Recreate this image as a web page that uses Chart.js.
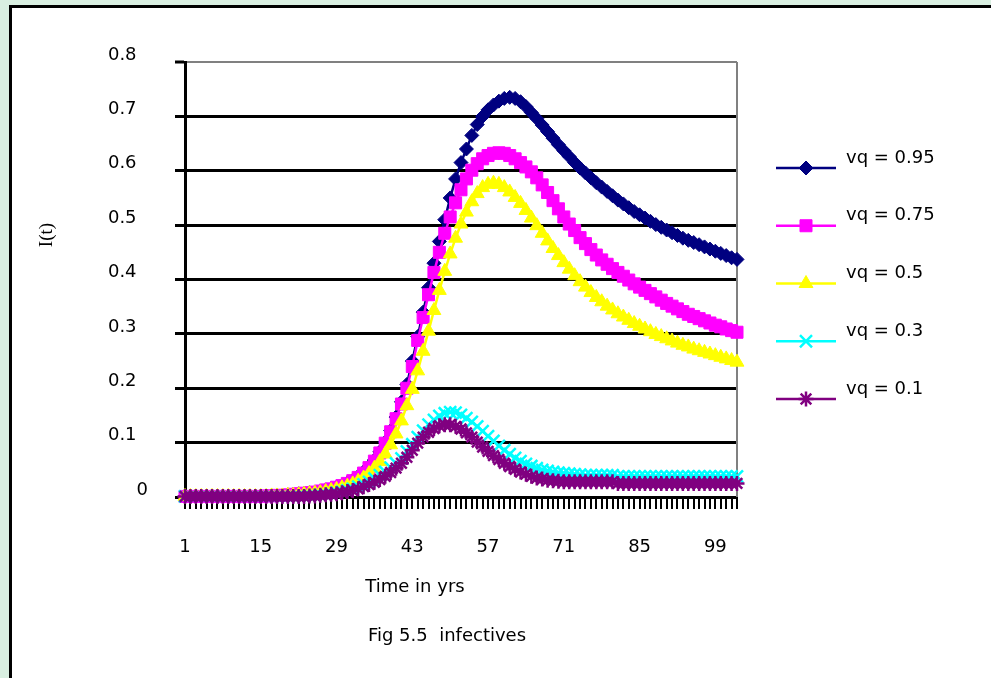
<!DOCTYPE html>
<html><head><meta charset="utf-8">
<script src="https://cdn.jsdelivr.net/npm/chart.js@4.4.1/dist/chart.umd.min.js"></script>
<style>
html,body{margin:0;padding:0;width:991px;height:678px;overflow:hidden;background:#d9efe1;}
#panel{position:absolute;left:9px;top:5px;right:0;bottom:0;background:#fff;border-top:3px solid #000;border-left:3px solid #000;}
#c{position:absolute;left:0;top:0;}
</style></head><body>
<div id="panel"></div>
<canvas id="c" width="991" height="678"></canvas>
<script>
const categories = ['1','2','3','4','5','6','7','8','9','10','11','12','13','14','15','16','17','18','19','20',
'21','22','23','24','25','26','27','28','29','30','31','32','33','34','35','36','37','38','39','40',
'41','42','43','44','45','46','47','48','49','50','51','52','53','54','55','56','57','58','59','60',
'61','62','63','64','65','66','67','68','69','70','71','72','73','74','75','76','77','78','79','80',
'81','82','83','84','85','86','87','88','89','90','91','92','93','94','95','96','97','98','99','100',
'101','102','103'];
const xTickLabels = ['1','15','29','43','57','71','85','99'];
const yTickValues = [0,0.1,0.2,0.3,0.4,0.5,0.6,0.7,0.8];
const yTickLabels = ['0','0.1','0.2','0.3','0.4','0.5','0.6','0.7','0.8'];
const seriesNames = ['vq = 0.95','vq = 0.75','vq = 0.5','vq = 0.3','vq = 0.1'];
const xTitle = 'Time in yrs';
const yTitle = 'I(t)';
const caption = 'Fig 5.5  infectives';

const vq95 = [0.001,0.001,0.001,0.001,0.001,0.001,0.001,0.001,0.001,0.001,0.001,0.001,0.001,0.001,0.001,
0.002,0.002,0.003,0.003,0.004,0.005,0.006,0.007,0.008,0.009,0.011,0.013,0.015,0.018,0.021,
0.026,0.031,0.038,0.046,0.056,0.068,0.083,0.101,0.122,0.147,0.175,0.207,0.25,0.295,0.34,
0.385,0.43,0.47,0.51,0.55,0.585,0.615,0.64,0.665,0.685,0.70,0.712,0.721,0.728,0.733,
0.735,0.733,0.727,0.718,0.707,0.696,0.684,0.672,0.66,0.648,0.637,0.626,0.615,0.605,0.596,
0.587,0.578,0.57,0.562,0.554,0.546,0.539,0.532,0.525,0.519,0.513,0.507,0.501,0.496,0.491,
0.486,0.481,0.476,0.472,0.468,0.464,0.46,0.456,0.452,0.448,0.444,0.44,0.437];
const vq75 = [0.001,0.001,0.001,0.001,0.001,0.001,0.001,0.001,0.001,0.001,0.001,0.001,0.001,0.001,0.001,
0.002,0.002,0.003,0.003,0.004,0.005,0.006,0.007,0.008,0.009,0.011,0.013,0.015,0.018,0.021,
0.025,0.03,0.036,0.044,0.054,0.066,0.081,0.099,0.12,0.144,0.171,0.2,0.24,0.288,0.33,
0.372,0.413,0.45,0.485,0.515,0.541,0.565,0.585,0.601,0.613,0.622,0.628,0.632,0.633,0.632,
0.628,0.622,0.615,0.607,0.598,0.587,0.574,0.56,0.545,0.53,0.515,0.502,0.49,0.477,0.466,
0.455,0.445,0.436,0.428,0.42,0.413,0.406,0.399,0.392,0.386,0.38,0.374,0.368,0.362,0.356,
0.351,0.346,0.341,0.336,0.332,0.328,0.324,0.32,0.316,0.313,0.309,0.306,0.303];
const vq50 = [0.001,0.001,0.001,0.001,0.001,0.001,0.001,0.001,0.001,0.001,0.001,0.001,0.001,0.001,0.001,
0.001,0.002,0.002,0.002,0.003,0.003,0.004,0.005,0.006,0.007,0.008,0.01,0.012,0.014,0.017,
0.02,0.024,0.029,0.035,0.043,0.053,0.065,0.079,0.096,0.116,0.14,0.168,0.198,0.232,0.268,
0.305,0.343,0.38,0.415,0.447,0.476,0.502,0.524,0.543,0.558,0.569,0.575,0.577,0.575,0.569,
0.561,0.551,0.54,0.527,0.513,0.499,0.485,0.471,0.457,0.444,0.431,0.419,0.407,0.396,0.386,
0.376,0.367,0.359,0.351,0.344,0.337,0.331,0.325,0.319,0.314,0.309,0.304,0.299,0.295,0.291,
0.287,0.283,0.279,0.276,0.272,0.269,0.266,0.263,0.26,0.257,0.254,0.251,0.248];
const vq30 = [0.001,0.001,0.001,0.001,0.001,0.001,0.001,0.001,0.001,0.001,0.001,0.001,0.001,0.001,0.001,
0.001,0.001,0.001,0.001,0.001,0.001,0.002,0.002,0.003,0.003,0.004,0.005,0.006,0.008,0.01,
0.012,0.015,0.019,0.023,0.028,0.034,0.04,0.046,0.054,0.062,0.071,0.084,0.097,0.11,0.122,
0.133,0.142,0.149,0.154,0.156,0.155,0.151,0.145,0.138,0.13,0.121,0.112,0.103,0.094,0.086,
0.079,0.072,0.066,0.061,0.057,0.053,0.05,0.048,0.046,0.045,0.044,0.043,0.042,0.041,0.04,
0.04,0.04,0.04,0.04,0.04,0.038,0.038,0.038,0.038,0.038,0.038,0.038,0.038,0.038,0.038,
0.038,0.038,0.038,0.038,0.038,0.038,0.038,0.038,0.038,0.038,0.038,0.038,0.038];
const vq10 = [0.001,0.001,0.001,0.001,0.001,0.001,0.001,0.001,0.001,0.001,0.001,0.001,0.001,0.001,0.001,
0.001,0.001,0.001,0.001,0.001,0.001,0.001,0.001,0.002,0.002,0.003,0.004,0.005,0.006,0.008,
0.01,0.012,0.015,0.019,0.023,0.027,0.032,0.038,0.045,0.053,0.062,0.073,0.086,0.099,0.11,
0.119,0.126,0.131,0.133,0.133,0.13,0.125,0.118,0.11,0.101,0.092,0.084,0.076,0.069,0.062,
0.056,0.051,0.046,0.042,0.038,0.035,0.033,0.031,0.03,0.029,0.028,0.028,0.028,0.028,0.028,
0.028,0.028,0.028,0.028,0.028,0.025,0.025,0.025,0.025,0.025,0.025,0.025,0.025,0.025,0.025,
0.025,0.025,0.025,0.025,0.025,0.025,0.025,0.025,0.025,0.025,0.025,0.025,0.025];

const colors = ['#000080','#FF00FF','#FFFF00','#00FFFF','#800080'];
const styles = ['rectRot','rect','triangle','crossRot','star'];
const radii = [7,8.5,8,8.5,7.5];
const pbw = [1,1,1,2.5,2.5];
const allData = [vq95, vq75, vq50, vq30, vq10];

const FONT = 'DejaVu Sans';

const extras = {
  id: 'extras',
  beforeDatasetsDraw(chart) {
    const {ctx, chartArea: a} = chart;
    ctx.save();
    ctx.strokeStyle = '#808080'; ctx.lineWidth = 2;
    ctx.beginPath(); ctx.moveTo(a.right, a.top); ctx.lineTo(a.right, a.bottom); ctx.stroke();
    ctx.restore();
  },
  afterDraw(chart) {
    const ctx = chart.ctx;
    ctx.save();
    ctx.fillStyle = '#000';
    ctx.font = '18px "' + FONT + '"';
    ctx.textAlign = 'center'; ctx.textBaseline = 'middle';
    ctx.fillText(xTitle, 415, 587);
    ctx.fillText(caption, 447, 636);
    ctx.save();
    ctx.translate(47, 235); ctx.rotate(-Math.PI/2);
    ctx.font = '19px "Liberation Serif"';
    ctx.fillText(yTitle, 0, 0);
    ctx.restore();
    chart.data.datasets.forEach((ds, i) => {
      const y = 168 + i * 57.75;
      ctx.strokeStyle = ds.borderColor; ctx.lineWidth = 2.5;
      ctx.beginPath(); ctx.moveTo(776, y); ctx.lineTo(836, y); ctx.stroke();
      ctx.fillStyle = ds.backgroundColor; ctx.lineWidth = ds.pointBorderWidth;
      Chart.helpers.drawPoint(ctx, {pointStyle: ds.pointStyle, radius: ds.pointRadius, rotation: 0, borderWidth: ds.pointBorderWidth}, 806, y);
      ctx.fillStyle = '#000'; ctx.textAlign = 'left'; ctx.textBaseline = 'middle';
      ctx.font = '18px "' + FONT + '"';
      ctx.fillText(ds.label, 846, y - 10);
    });
    ctx.restore();
  }
};

new Chart(document.getElementById('c'), {
  type: 'line',
  data: {
    labels: categories,
    datasets: allData.map((d, i) => ({
      label: seriesNames[i],
      data: d,
      borderColor: colors[i],
      backgroundColor: colors[i],
      pointBackgroundColor: colors[i],
      pointBorderColor: colors[i],
      pointStyle: styles[i],
      pointRadius: radii[i],
      pointBorderWidth: pbw[i],
      borderWidth: 2.5,
      tension: 0,
      fill: false,
      clip: false,
      order: 4 - i
    }))
  },
  options: {
    responsive: false,
    animation: false,
    events: [],
    layout: { padding: { left: 0, top: 62, right: 254, bottom: 0 } },
    plugins: { legend: { display: false }, tooltip: { enabled: false } },
    scales: {
      x: {
        type: 'category',
        offset: false,
        grid: { drawOnChartArea: false, drawTicks: true, tickLength: 12, color: '#000', lineWidth: 2, offset: false },
        border: { display: true, color: '#000', width: 3 },
        ticks: {
          autoSkip: false, maxRotation: 0, minRotation: 0, padding: 28,
          color: '#000', font: { family: FONT, size: 18 },
          callback: function(v, idx) { const l = categories[idx]; return xTickLabels.includes(l) ? l : ''; }
        },
        afterFit: s => { s.height = 181; }
      },
      y: {
        min: 0, max: 0.8,
        afterBuildTicks: s => { s.ticks = yTickValues.map(v => ({ value: v })); },
        grid: {
          color: c => (c.tick && c.tick.value > 0.75) ? '#808080' : '#000',
          lineWidth: c => (c.tick && c.tick.value > 0.75) ? 2 : 3,
          tickColor: '#000', tickWidth: 3, tickLength: 10, drawTicks: true
        },
        border: { display: true, color: '#000', width: 3 },
        ticks: {
          padding: 27, labelOffset: -7, color: '#000', font: { family: FONT, size: 18 },
          callback: (v, idx) => { const l = yTickLabels[idx]; return l === '0' ? l : l + '\u00a0\u00a0'; }
        },
        afterFit: s => { s.width = 185; }
      }
    }
  },
  plugins: [extras]
});
</script>
</body></html>
